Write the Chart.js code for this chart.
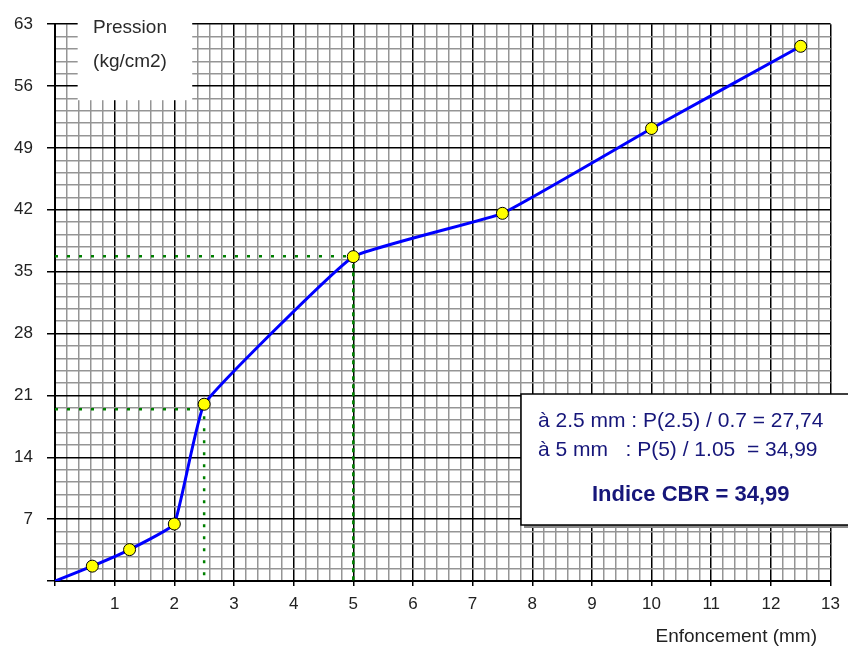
<!DOCTYPE html>
<html><head><meta charset="utf-8">
<script src="https://cdn.jsdelivr.net/npm/chart.js@4.4.1/dist/chart.umd.min.js"></script>
<style>html,body{margin:0;padding:0;background:#fff;overflow:hidden}canvas{display:block}</style>
</head><body>
<canvas id="c" width="848" height="650"></canvas>
<script>
// ---- data ----
const penetration = [0, 0.625, 1.25, 2, 2.5, 5, 7.5, 10, 12.5];
const pressure    = [0, 1.68, 3.55, 6.45, 20.0, 36.7, 41.6, 51.2, 60.5];
const guide25X = [0, 2.5, 2.5];
const guide25Y = [19.42, 19.42, 0];
const guide5X  = [0, 5, 5];
const guide5Y  = [36.74, 36.74, 0];
const xTickLabels = ['1','2','3','4','5','6','7','8','9','10','11','12','13'];
const yTickLabels = ['7','14','21','28','35','42','49','56','63'];
const yTitle = ['Pression', '(kg/cm2)'];
const xTitle = 'Enfoncement (mm)';
const resultLines = ['à 2.5 mm : P(2.5) / 0.7 = 27,74', 'à 5 mm   : P(5) / 1.05  = 34,99'];
const cbrLine = 'Indice CBR = 34,99';

const FONT = '"Liberation Sans", Arial, sans-serif';
const near = (v, m) => Math.abs(v / m - Math.round(v / m)) < 1e-6;
const toPts = (xs, ys) => xs.map((x, i) => ({x, y: ys[i]}));

const decor = {
  id: 'decor',
  beforeDatasetsDraw(chart) {
    const {ctx, scales: {x, y}} = chart;
    const l = x.getPixelForValue(0.38), r = x.getPixelForValue(2.3);
    const t = y.getPixelForValue(63) - 2, b = y.getPixelForValue(54.4);
    ctx.save();
    ctx.fillStyle = '#fff';
    ctx.fillRect(l, t, r - l, b - t);
    ctx.fillStyle = '#2a2a2a';
    ctx.font = '19px ' + FONT;
    ctx.textAlign = 'center';
    ctx.textBaseline = 'middle';
    ctx.fillText(yTitle[0], 130, 28);
    ctx.fillText(yTitle[1], 130, 62);
    ctx.restore();
  },
  afterDatasetsDraw(chart) {
    const {ctx} = chart;
    ctx.save();
    // info box
    const bx = 521, by = 394, bw = 340, bh = 131;
    ctx.fillStyle = '#8a8a8a';
    ctx.fillRect(bx + 3, by + 3, bw, bh);
    ctx.fillStyle = '#fff';
    ctx.fillRect(bx, by, bw, bh);
    ctx.strokeStyle = '#000';
    ctx.lineWidth = 1.5;
    ctx.strokeRect(bx, by, bw, bh);
    ctx.fillStyle = '#16167a';
    ctx.textBaseline = 'middle';
    ctx.textAlign = 'left';
    ctx.font = '21px ' + FONT;
    ctx.fillText(resultLines[0], 538, 421);
    ctx.fillText(resultLines[1], 538, 450);
    ctx.font = 'bold 22px ' + FONT;
    ctx.fillText(cbrLine, 592, 495);
    // x axis title
    ctx.fillStyle = '#222';
    ctx.font = '19px ' + FONT;
    ctx.textAlign = 'right';
    ctx.fillText(xTitle, 817, 637);
    ctx.restore();
  }
};

new Chart(document.getElementById('c'), {
  type: 'scatter',
  data: {
    datasets: [
      {
        data: toPts(penetration, pressure),
        showLine: true,
        borderColor: '#0000ff',
        borderWidth: 3,
        tension: 0.1,
        pointRadius: ctx => ctx.dataIndex === 0 ? 0 : 6,
        pointBackgroundColor: '#ffff00',
        pointBorderColor: '#000',
        pointBorderWidth: 1,
        order: 0
      },
      {
        data: toPts(guide25X, guide25Y),
        showLine: true,
        borderColor: '#008000',
        borderWidth: 2.5,
        borderDash: [3, 9],
        pointRadius: 0,
        tension: 0,
        order: 1
      },
      {
        data: toPts(guide5X, guide5Y),
        showLine: true,
        borderColor: '#008000',
        borderWidth: 2.5,
        borderDash: [3, 9],
        pointRadius: 0,
        tension: 0,
        segment: { borderDash: ctx => ctx.p0DataIndex === 1 ? [4, 4] : [3, 9] },
        order: 1
      }
    ]
  },
  options: {
    responsive: false,
    animation: false,
    events: [],
    layout: { padding: { left: 0, right: 17, top: 19, bottom: 0 } },
    plugins: { legend: { display: false }, tooltip: { enabled: false } },
    scales: {
      x: {
        type: 'linear', min: 0, max: 13,
        afterFit: s => { s.height = 69; },
        border: { color: '#000', width: 2 },
        grid: {
          color: c => near(c.tick.value, 1) ? '#000' : '#959595',
          lineWidth: 1.5,
          tickColor: c => near(c.tick.value, 1) ? '#000' : 'rgba(0,0,0,0)',
          tickLength: 5,
          tickWidth: 1.5
        },
        ticks: {
          stepSize: 0.2,
          autoSkip: false, maxRotation: 0, minRotation: 0,
          padding: 8,
          color: '#222',
          font: { family: FONT, size: 17 },
          callback: v => (near(v, 1) && Math.round(v) >= 1) ? xTickLabels[Math.round(v) - 1] : ''
        }
      },
      y: {
        type: 'linear', min: 0, max: 63,
        afterFit: s => { s.width = 55; },
        border: { color: '#000', width: 2 },
        grid: {
          color: c => near(c.tick.value, 7) ? '#000' : '#959595',
          lineWidth: 1.5,
          tickColor: c => near(c.tick.value, 7) ? '#000' : 'rgba(0,0,0,0)',
          tickLength: 8,
          tickWidth: 1.5
        },
        ticks: {
          stepSize: 1.4,
          autoSkip: false,
          padding: 14,
          color: '#222',
          font: { family: FONT, size: 17 },
          callback: v => (near(v, 7) && Math.round(v / 7) >= 1) ? yTickLabels[Math.round(v / 7) - 1] : ''
        }
      }
    }
  },
  plugins: [decor]
});
</script>
</body></html>
